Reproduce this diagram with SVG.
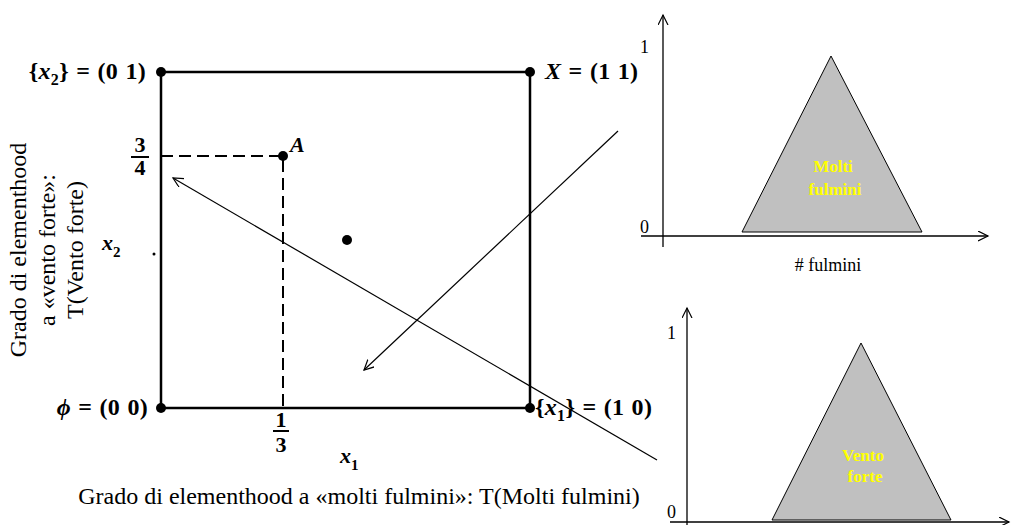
<svg xmlns="http://www.w3.org/2000/svg" width="1012" height="525" viewBox="0 0 1012 525">
<style>
.lbl{font-family:"Liberation Serif",serif;font-weight:bold;font-size:22px;fill:#000}
.corner{font-size:24px;word-spacing:1px;letter-spacing:0.3px}
.it{font-style:italic}
.reg{font-family:"Liberation Serif",serif;font-size:24px;fill:#000}
.ax{font-family:"Liberation Serif",serif;font-size:18px;fill:#000}
.yel{font-family:"Liberation Serif",serif;font-weight:bold;font-size:17px;fill:#ffff00;text-anchor:middle}
.sq{fill:none;stroke:#000;stroke-width:2.5}
.dash{fill:none;stroke:#000;stroke-width:2;stroke-dasharray:12 6}
.thin{fill:none;stroke:#000;stroke-width:1.2}
.axis{fill:none;stroke:#000;stroke-width:1.3}
.tri{fill:#c0c0c0;stroke:#000;stroke-width:1}
</style>
<defs>
<marker id="arr" markerWidth="12" markerHeight="12" refX="10" refY="5" orient="auto" markerUnits="userSpaceOnUse">
<path d="M0,0 L10,5 L0,10" fill="none" stroke="#000" stroke-width="1.2"/>
</marker>
</defs>

<g id="square">
<rect class="sq" x="161" y="72" width="369" height="336"/>
<circle cx="161" cy="72" r="5"/>
<circle cx="530" cy="72" r="5"/>
<circle cx="161" cy="408" r="5"/>
<circle cx="530" cy="408" r="5"/>
</g>

<g id="labels-corners">
<text class="lbl corner" x="146" y="79" text-anchor="end">{<tspan class="it">x</tspan><tspan font-size="16" dy="6">2</tspan><tspan dy="-6">} = (0 1)</tspan></text>
<text class="lbl corner" x="545" y="79"><tspan class="it">X</tspan> = (1 1)</text>
<text class="lbl corner" x="148" y="415" text-anchor="end"><tspan class="it">ϕ</tspan> = (0 0)</text>
<text class="lbl corner" x="535" y="415">{<tspan class="it">x</tspan><tspan font-size="16" dy="6">1</tspan><tspan dy="-6">} = (1 0)</tspan></text>
</g>

<g id="pointA">
<path class="dash" d="M161,156 H283 V408"/>
<circle cx="283" cy="156" r="5"/>
<text class="lbl it" x="290" y="152" font-size="20">A</text>
</g>

<g id="fractions">
<text class="lbl" x="140" y="152" text-anchor="middle" font-size="18">3</text>
<line x1="131" y1="157" x2="149" y2="157" stroke="#000" stroke-width="2"/>
<text class="lbl" x="140" y="175" text-anchor="middle" font-size="18">4</text>
<text class="lbl" x="281" y="427" text-anchor="middle" font-size="18">1</text>
<line x1="273" y1="431" x2="289" y2="431" stroke="#000" stroke-width="2"/>
<text class="lbl" x="281" y="452" text-anchor="middle" font-size="18">3</text>
</g>

<g id="axis-labels">
<text class="lbl" x="340" y="463"><tspan class="it">x</tspan><tspan font-size="15" dy="7">1</tspan></text>
<text class="lbl" x="102" y="250"><tspan class="it">x</tspan><tspan font-size="15" dy="7">2</tspan></text>
<circle cx="154" cy="254" r="1.5"/>
<circle cx="347" cy="240" r="5"/>
</g>

<g id="caption">
<text class="reg" x="359" y="504" text-anchor="middle">Grado di elementhood a «molti fulmini»: T(Molti fulmini)</text>
</g>

<g id="ylabel" transform="translate(0,250) rotate(-90)">
<text class="reg" text-anchor="middle" x="0" y="26" font-size="25">Grado di elementhood</text>
<text class="reg" text-anchor="middle" x="0" y="55" font-size="25">a «vento forte»:</text>
<text class="reg" text-anchor="middle" x="0" y="83" font-size="25">T(Vento forte)</text>
</g>

<g id="chart-molti">
<line class="axis" x1="663" y1="247" x2="663" y2="15" marker-end="url(#arr)"/>
<line class="axis" x1="641" y1="236" x2="988" y2="236" marker-end="url(#arr)"/>
<polygon class="tri" points="742,232 831,56 922,232"/>
<text class="ax" x="640" y="53">1</text>
<text class="ax" x="640" y="233">0</text>
<text class="ax" x="828" y="271" text-anchor="middle" font-size="15">&#35; fulmini</text>
<text class="yel" x="833" y="172">Molti</text>
<text class="yel" x="835" y="195">fulmini</text>
</g>

<g id="chart-vento">
<line class="axis" x1="687" y1="525" x2="687" y2="308" marker-end="url(#arr)"/>
<line class="axis" x1="670" y1="522" x2="1009" y2="522" marker-end="url(#arr)"/>
<polygon class="tri" points="772,520 861,343 951,520"/>
<text class="ax" x="667" y="339">1</text>
<text class="ax" x="667" y="518">0</text>
<text class="yel" x="863" y="461">Vento</text>
<text class="yel" x="865" y="482">forte</text>
</g>

<g id="connectors">
<line class="thin" x1="657" y1="460" x2="173" y2="178" marker-end="url(#arr)"/>
<line class="thin" x1="618" y1="131" x2="364" y2="370" marker-end="url(#arr)"/>
</g>
</svg>
